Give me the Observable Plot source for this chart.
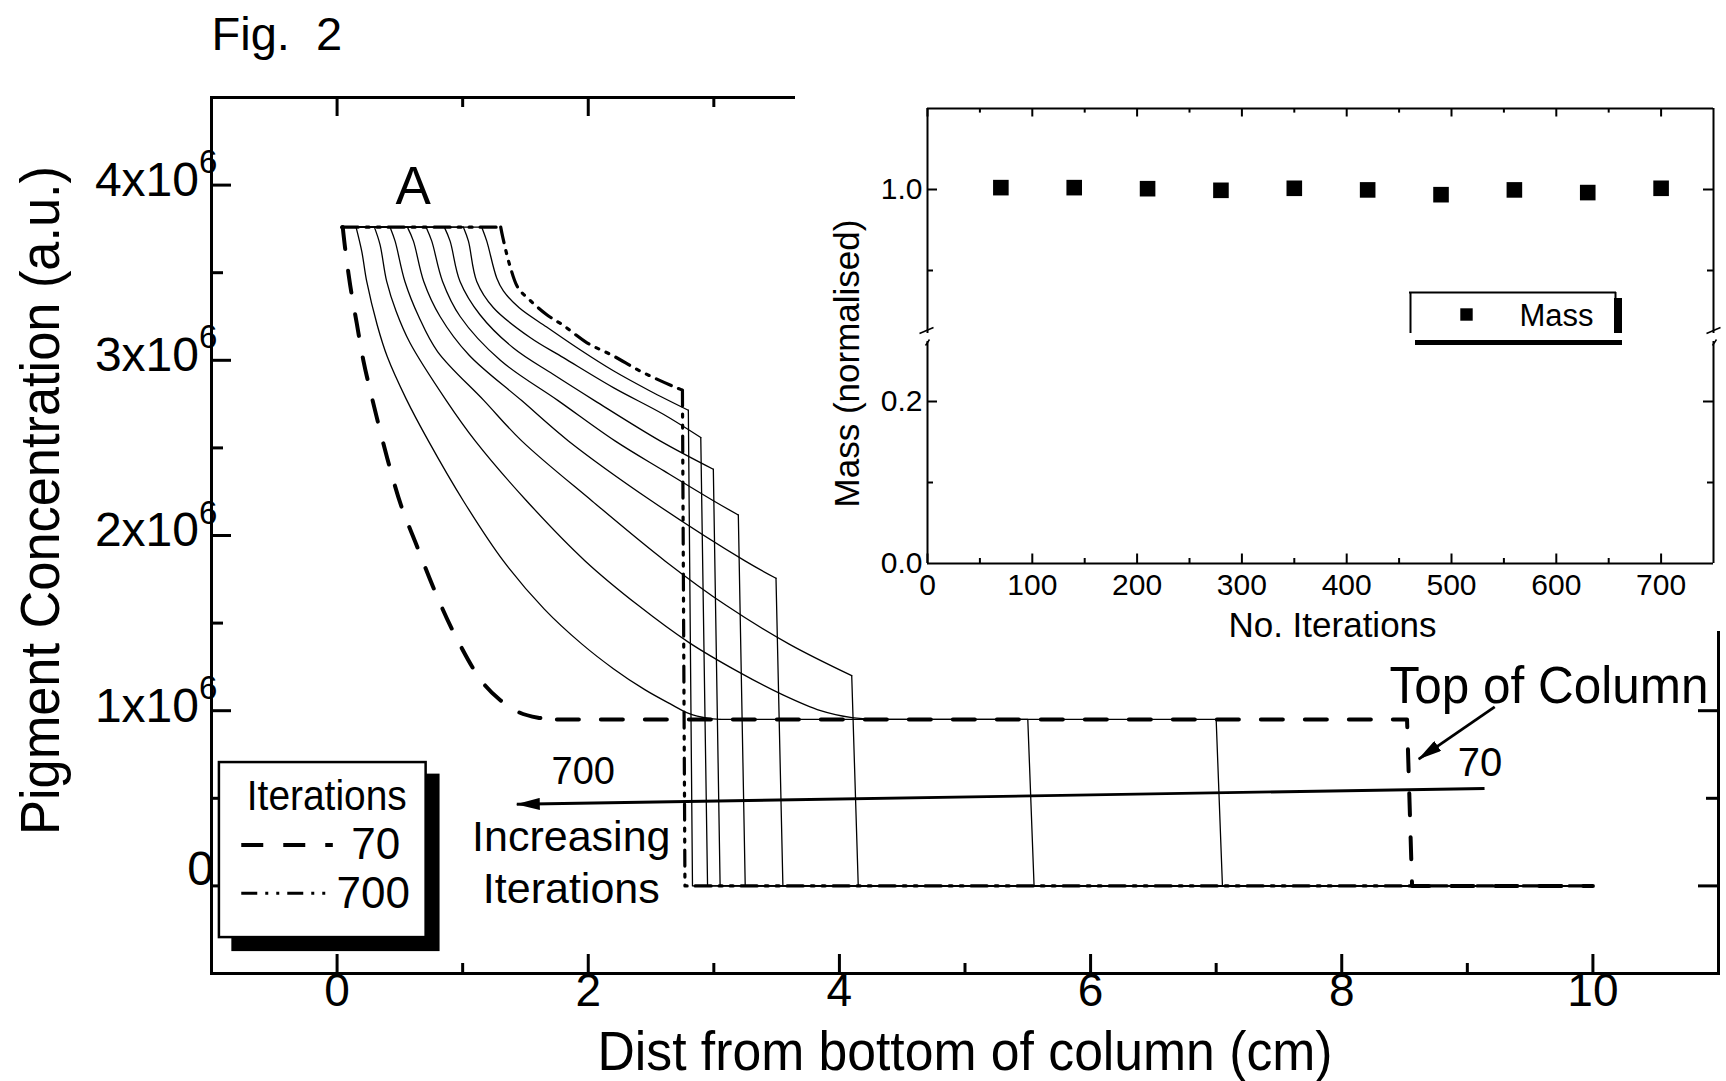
<!DOCTYPE html>
<html><head><meta charset="utf-8">
<script src="https://cdn.jsdelivr.net/npm/d3@7"></script>
<script src="https://cdn.jsdelivr.net/npm/@observablehq/plot@0.6"></script>
<style>
html,body{margin:0;padding:0;background:#fff;overflow:hidden;}
#wrap{position:relative;width:1726px;height:1081px;overflow:hidden;}
#wrap svg{position:absolute;}
#cover{position:absolute;left:795px;top:0;width:931px;height:631px;background:#fff;}
</style></head><body><div id="wrap"></div>
<script>
// ================= DATA =================
// Main chart: pigment concentration profiles (units of 10^6 a.u.) vs distance (cm)
const iterations = [70, 140, 210, 280, 350, 420, 490, 560, 630, 700];
const profileStartX = 0.04;
const loadConc = 3.76;       // initial loaded concentration
const columnTopX = 10;
// descending part of each profile, from the end of the loaded plateau to the front
const descent70  = [[0.045,3.76],[0.064,3.64],[0.104,3.43],[0.157,3.21],[0.209,3.00],[0.29,2.75],[0.40,2.44],[0.51,2.17],[0.63,1.95],[0.78,1.68],[0.94,1.43],[1.15,1.17],[1.30,1.06],[1.45,0.99],[1.6,0.96],[1.75,0.95]];
const descent140 = [[0.151,3.76],[0.197,3.62],[0.236,3.45],[0.32,3.2],[0.40,3.02],[0.55,2.78],[0.727,2.54],[1.006,2.197],[1.324,1.855],[1.65,1.58],[1.95,1.38],[2.2,1.24],[2.45,1.12],[2.65,1.04],[2.8,0.985],[2.95,0.957],[3.05,0.95]];
const descent210 = [[0.297,3.76],[0.342,3.66],[0.395,3.45],[0.47,3.28],[0.58,3.10],[0.87,2.77],[1.10,2.54],[1.51,2.197],[1.975,1.855],[2.4,1.6],[2.8,1.39],[3.2,1.22],[3.55,1.09],[3.85,1.00],[4.1,0.96],[4.3,0.95]];
const descent280 = [[0.422,3.76],[0.462,3.68],[0.54,3.45],[0.65,3.25],[0.80,3.05],[1.17,2.77],[1.47,2.54],[2.03,2.197],[2.611,1.855],[3.1,1.60],[3.6,1.38],[4.098,1.20]];
const descent350 = [[0.56,3.76],[0.608,3.68],[0.69,3.45],[0.82,3.25],[1.05,3.03],[1.47,2.77],[1.842,2.54],[2.505,2.197],[3.248,1.855],[3.495,1.756]];
const descent420 = [[0.709,3.76],[0.754,3.68],[0.84,3.45],[0.98,3.25],[1.3,3.0],[1.76,2.77],[2.213,2.54],[2.6,2.37],[3.0,2.197],[3.195,2.117]];
const descent490 = [[0.854,3.76],[0.90,3.68],[0.979,3.45],[1.138,3.26],[1.404,3.07],[1.72,2.92],[2.05,2.77],[2.572,2.54],[2.996,2.378]];
const descent560 = [[1.006,3.76],[1.046,3.68],[1.112,3.45],[1.245,3.30],[1.537,3.13],[1.802,3.015],[2.2,2.844],[2.598,2.692],[2.896,2.559]];
const descent630 = [[1.152,3.76],[1.192,3.68],[1.271,3.47],[1.324,3.396],[1.45,3.30],[1.669,3.19],[1.935,3.06],[2.2,2.94],[2.492,2.825],[2.797,2.715]];
const descent700 = [[1.303,3.76],[1.32,3.70],[1.38,3.53],[1.44,3.415],[1.54,3.34],[1.67,3.26],[1.80,3.20],[1.99,3.10],[2.20,3.025],[2.41,2.94],[2.68,2.85],[2.75,2.83]];
const dropTopX    = [8.52, 7.0, 5.5, 4.098, 3.495, 3.195, 2.996, 2.896, 2.797, 2.75];
const dropBottomX = [8.56, 7.05, 5.55, 4.15, 3.55, 3.25, 3.05, 2.95, 2.83, 2.77];

const xTicksMajor = [0, 2, 4, 6, 8, 10];
const xTicksMinor = [1, 3, 5, 7, 9];
const yTicksMajor = [0, 1, 2, 3, 4];
const yTicksMinor = [0.5, 1.5, 2.5, 3.5];
const yPowLabels = ["1x10", "2x10", "3x10", "4x10"];
const yPowValues = [1, 2, 3, 4];
const yExponent = "6";

// Inset: normalised mass vs iterations
const massIterations = [70, 140, 210, 280, 350, 420, 490, 560, 630, 700];
const massValues = [1.0023, 1.0023, 1.001, 0.999, 1.0015, 0.9995, 0.9936, 0.9995, 0.9962, 1.0015];
const insetXTicks = [0, 100, 200, 300, 400, 500, 600, 700];
const insetXMinor = [50, 150, 250, 350, 450, 550, 650];
const insetUpperMajor = [1.0], insetUpperMinor = [0.9];
const insetLowerMajor = [0.2], insetLowerMinor = [0.1];
const insetUpperLabels = ["1.0"], insetLowerLabelVals = [0.2, 0.0], insetLowerLabels = ["0.2", "0.0"];

// ================= BUILD =================
const FONT = "'Liberation Sans', Arial, Helvetica, sans-serif";
const descents = [descent70, descent140, descent210, descent280, descent350, descent420, descent490, descent560, descent630, descent700];
const rows = [];
iterations.forEach((it, i) => {
  const d = descents[i];
  const last = d[d.length - 1];
  const segs = {
    flat: [[profileStartX, loadConc], d[0]],
    fall: d,
    tail: [last, [dropTopX[i], last[1]], [dropBottomX[i], 0], [columnTopX, 0]]
  };
  for (const [seg, pts] of Object.entries(segs))
    for (const [x, y] of pts) rows.push({it, seg, key: it + seg, x, y});
});
const pick = (f) => rows.filter(f);
const thin = r => r.it !== 70 && r.it !== 700;

const W = 1726, H = 1081, ML = 211, MR = 8, MT = 97, MB = 108;
const PW = W - ML - MR, PH = H - MT - MB;
const LW = 3;
const dashDot = "16,8,3,8,3,8";

const main = Plot.plot({
  width: W, height: H,
  marginLeft: ML, marginRight: MR, marginTop: MT, marginBottom: MB,
  x: {domain: [-1, 11], axis: null},
  y: {domain: [-0.5, 4.5], axis: null},
  style: {fontFamily: FONT, background: "white", color: "black", overflow: "visible"},
  marks: [
    Plot.line(pick(r => thin(r) && r.seg === "fall"), {x: "x", y: "y", z: "key", curve: "catmull-rom", stroke: "black", strokeWidth: 1.3}),
    Plot.line(pick(r => thin(r) && r.seg !== "fall"), {x: "x", y: "y", z: "key", stroke: "black", strokeWidth: 1.3}),
    Plot.line(pick(r => r.it === 70 && r.seg === "fall"), {x: "x", y: "y", z: "key", curve: "catmull-rom", stroke: "black", strokeWidth: 4, strokeDasharray: "22,22"}),
    Plot.line(pick(r => r.it === 70 && r.seg !== "fall"), {x: "x", y: "y", z: "key", stroke: "black", strokeWidth: 4, strokeDasharray: "22,22"}),
    Plot.line(pick(r => r.it === 700 && r.seg === "fall"), {x: "x", y: "y", z: "key", curve: "catmull-rom", stroke: "black", strokeWidth: 3.2, strokeDasharray: dashDot}),
    Plot.line(pick(r => r.it === 700 && r.seg !== "fall"), {x: "x", y: "y", z: "key", stroke: "black", strokeWidth: 3.2, strokeDasharray: dashDot}),
    // ticks (inward)
    Plot.tickY(yTicksMajor, {stroke: "black", strokeWidth: LW, insetRight: PW - 20}),
    Plot.tickY(yTicksMinor, {stroke: "black", strokeWidth: LW, insetRight: PW - 12}),
    Plot.tickY(yTicksMajor, {stroke: "black", strokeWidth: LW, insetLeft: PW - 20}),
    Plot.tickY(yTicksMinor, {stroke: "black", strokeWidth: LW, insetLeft: PW - 12}),
    Plot.tickX(xTicksMajor, {stroke: "black", strokeWidth: LW, insetTop: PH - 19}),
    Plot.tickX(xTicksMinor, {stroke: "black", strokeWidth: LW, insetTop: PH - 10}),
    Plot.tickX(xTicksMajor, {stroke: "black", strokeWidth: LW, insetBottom: PH - 19}),
    Plot.tickX(xTicksMinor, {stroke: "black", strokeWidth: LW, insetBottom: PH - 10}),
    Plot.frame({stroke: "black", strokeWidth: LW}),
    // tick labels
    Plot.text(xTicksMajor, {x: d => d, y: -0.5, text: d => String(d), lineAnchor: "top", fontSize: 46}),
    Plot.text(yPowValues, {x: -1, y: d => d, text: (d, i) => yPowLabels[i], textAnchor: "end", lineAnchor: "bottom", dx: -12.5, dy: 10.8, fontSize: 48}),
    Plot.text(yPowValues, {x: -1, y: d => d, text: () => yExponent, textAnchor: "start", lineAnchor: "bottom", dx: -12.5, dy: -12, fontSize: 33}),
    Plot.text([0], {x: -1, y: 0, text: () => "0", textAnchor: "end", lineAnchor: "bottom", dx: 2.5, dy: -1, fontSize: 48}),
    // axis titles
    Plot.text(["Dist from bottom of column (cm)"], {x: 5, y: -0.5, dy: 96.4, lineAnchor: "bottom", fontSize: 56}),
    Plot.text(["Pigment Concentration (a.u.)"], {x: -1, y: 2.2, dx: -153, rotate: -90, lineAnchor: "bottom", fontSize: 56}),
    Plot.text(["Fig.\u00a0\u00a02"], {x: -1, y: 4.5, dy: -47.5, textAnchor: "start", lineAnchor: "bottom", fontSize: 47}),
    // annotations
    Plot.text(["A"], {x: 0.605, y: 3.893, lineAnchor: "bottom", fontSize: 53}),
    Plot.text(["700"], {x: 1.96, y: 0.582, lineAnchor: "bottom", fontSize: 38}),
    Plot.text(["Increasing\nIterations"], {x: 1.865, y: -0.097, lineAnchor: "bottom", lineHeight: 1.2, fontSize: 43}),
    Plot.text(["Top of Column"], {x: 9.65, y: 1.045, lineAnchor: "bottom", fontSize: 52}),
    Plot.text(["70"], {x: 9.10, y: 0.628, lineAnchor: "bottom", fontSize: 40}),
    Plot.link([{x1: 9.218, y1: 1.022, x2: 8.613, y2: 0.724}, {x1: 9.137, y1: 0.556, x2: 1.431, y2: 0.466}], {x1: "x1", y1: "y1", x2: "x2", y2: "y2", stroke: "black", strokeWidth: 2.8}),
    // legend
    Plot.rect([{x1: -0.838, x2: 0.82, y1: -0.375, y2: 0.638}], {x1: "x1", x2: "x2", y1: "y1", y2: "y2", fill: "black"}),
    Plot.rect([{x1: -0.937, x2: 0.709, y1: -0.295, y2: 0.704}], {x1: "x1", x2: "x2", y1: "y1", y2: "y2", fill: "white", stroke: "black", strokeWidth: 2.5}),
    Plot.text(["Iterations"], {x: -0.082, y: 0.434, lineAnchor: "bottom", fontSize: 42}),
    Plot.ruleY([0.234], {x1: -0.759, x2: -0.03, stroke: "black", strokeWidth: 4, strokeDasharray: "22,20"}),
    Plot.ruleY([-0.042], {x1: -0.759, x2: -0.06, stroke: "black", strokeWidth: 3.2, strokeDasharray: dashDot}),
    Plot.text(["70"], {x: 0.502, y: 0.154, textAnchor: "end", lineAnchor: "bottom", fontSize: 44}),
    Plot.text(["700"], {x: 0.58, y: -0.124, textAnchor: "end", lineAnchor: "bottom", fontSize: 44})
  ]
});

function fitText(svg, str, len) {
  d3.select(svg).selectAll("text").filter(function () { return this.textContent === str; })
    .attr("textLength", len).attr("lengthAdjust", "spacingAndGlyphs");
}
fitText(main, "Dist from bottom of column (cm)", 735);
fitText(main, "Pigment Concentration (a.u.)", 669);
fitText(main, "Top of Column", 319);
fitText(main, "Iterations", 160);

// filled arrowheads on the two annotation arrows
const SVGNS = "http://www.w3.org/2000/svg";
const defs = document.createElementNS(SVGNS, "defs");
const marker = document.createElementNS(SVGNS, "marker");
marker.setAttribute("id", "ahead");
marker.setAttribute("viewBox", "0 0 24 12");
marker.setAttribute("refX", "23");
marker.setAttribute("refY", "6");
marker.setAttribute("markerWidth", "24");
marker.setAttribute("markerHeight", "12");
marker.setAttribute("markerUnits", "userSpaceOnUse");
marker.setAttribute("orient", "auto");
const mpath = document.createElementNS(SVGNS, "path");
mpath.setAttribute("d", "M0,0L24,6L0,12Z");
mpath.setAttribute("fill", "black");
marker.appendChild(mpath); defs.appendChild(marker); main.insertBefore(defs, main.firstChild);
d3.select(main).selectAll('g[aria-label="link"] path, g[aria-label="link"] line').attr("marker-end", "url(#ahead)");

// ================= INSET =================
const IX0 = 927, IX1 = 1713, ISW = 926, ILEFT = 800;
const xu = px => (px - IX0) / ((IX1 - IX0) / 750);
const upC = py => 1.1 - (py - 108) / 810;
const loC = py => (563 - py) / 810;
const IPW = IX1 - IX0;
const upperH = 340, upperTop = 108, upperBottom = 333;
const UPH = upperBottom - upperTop;
const upper = Plot.plot({
  width: ISW, height: upperH,
  marginLeft: IX0 - ILEFT, marginRight: ILEFT + ISW - IX1, marginTop: upperTop, marginBottom: upperH - upperBottom,
  x: {domain: [0, 750], axis: null},
  y: {domain: [upC(upperBottom), 1.1], axis: null},
  style: {fontFamily: FONT, background: "transparent", color: "black", overflow: "visible"},
  marks: [
    Plot.ruleX([0, 750], {stroke: "black", strokeWidth: 2}),
    Plot.ruleY([1.1], {stroke: "black", strokeWidth: 2}),
    Plot.tickX(insetXTicks, {stroke: "black", strokeWidth: 2, insetBottom: UPH - 8.5}),
    Plot.tickX(insetXMinor, {stroke: "black", strokeWidth: 2, insetBottom: UPH - 4.6}),
    Plot.tickY(insetUpperMajor, {stroke: "black", strokeWidth: 2, insetRight: IPW - 10}),
    Plot.tickY(insetUpperMinor, {stroke: "black", strokeWidth: 2, insetRight: IPW - 6}),
    Plot.tickY(insetUpperMajor, {stroke: "black", strokeWidth: 2, insetLeft: IPW - 10}),
    Plot.tickY(insetUpperMinor, {stroke: "black", strokeWidth: 2, insetLeft: IPW - 6}),
    Plot.text(insetUpperMajor, {x: 0, y: d => d, text: (d, i) => insetUpperLabels[i], textAnchor: "end", lineAnchor: "middle", dx: -5, fontSize: 30}),
    Plot.dot(massIterations.map((x, i) => ({x, y: massValues[i]})), {x: "x", y: "y", symbol: "square", r: 8.8, fill: "black"}),
    // legend box
    Plot.rect([{x1: xu(1410), x2: xu(1615), y1: upC(333), y2: upC(292)}], {x1: "x1", x2: "x2", y1: "y1", y2: "y2", fill: "white"}),
    Plot.ruleY([upC(292)], {x1: xu(1409), x2: xu(1616), stroke: "black", strokeWidth: 2}),
    Plot.ruleX([xu(1410)], {y1: upC(333), y2: upC(292), stroke: "black", strokeWidth: 2}),
    Plot.rect([{x1: xu(1614), x2: xu(1622), y1: upC(333), y2: upC(298)}], {x1: "x1", x2: "x2", y1: "y1", y2: "y2", fill: "black"}),
    Plot.ruleX([xu(1615)], {y1: upC(333), y2: upC(292), stroke: "black", strokeWidth: 2}),
    Plot.dot([{x: xu(1466), y: upC(314)}], {x: "x", y: "y", symbol: "square", r: 7, fill: "black"}),
    Plot.text(["Mass"], {x: xu(1519), y: upC(325), textAnchor: "start", lineAnchor: "bottom", fontSize: 31}),
    // break marks
    Plot.link([{a: 919, b: 333, c: 933, d: 327}, {a: 1706, b: 333, c: 1720, d: 327}], {x1: d => xu(d.a), y1: d => upC(d.b), x2: d => xu(d.c), y2: d => upC(d.d), stroke: "black", strokeWidth: 1.5})
  ]
});

const lowerTopPx = 300, lowerH = 345, lowerTop = 341, lowerBottom = 563;
const LPH = lowerBottom - lowerTop;
const lower = Plot.plot({
  width: ISW, height: lowerH,
  marginLeft: IX0 - ILEFT, marginRight: ILEFT + ISW - IX1, marginTop: lowerTop - lowerTopPx, marginBottom: lowerTopPx + lowerH - lowerBottom,
  x: {domain: [0, 750], axis: null},
  y: {domain: [0, loC(lowerTop)], axis: null},
  style: {fontFamily: FONT, background: "transparent", color: "black", overflow: "visible"},
  marks: [
    Plot.ruleX([0, 750], {stroke: "black", strokeWidth: 2}),
    Plot.ruleY([0], {stroke: "black", strokeWidth: 2}),
    Plot.tickX(insetXTicks, {stroke: "black", strokeWidth: 2, insetTop: LPH - 9.5}),
    Plot.tickX(insetXMinor, {stroke: "black", strokeWidth: 2, insetTop: LPH - 5}),
    Plot.tickY(insetLowerMajor, {stroke: "black", strokeWidth: 2, insetRight: IPW - 10}),
    Plot.tickY(insetLowerMinor, {stroke: "black", strokeWidth: 2, insetRight: IPW - 6}),
    Plot.tickY(insetLowerMajor, {stroke: "black", strokeWidth: 2, insetLeft: IPW - 10}),
    Plot.tickY(insetLowerMinor, {stroke: "black", strokeWidth: 2, insetLeft: IPW - 6}),
    Plot.text(insetXTicks, {x: d => d, y: 0, text: d => String(d), lineAnchor: "top", dy: 10.5, fontSize: 30}),
    Plot.text(insetLowerLabelVals, {x: 0, y: d => d, text: (d, i) => insetLowerLabels[i], textAnchor: "end", lineAnchor: "middle", dx: -5, fontSize: 30}),
    Plot.text(["No. Iterations"], {x: xu(1332), y: 0, dy: 636 - 563, lineAnchor: "bottom", fontSize: 35}),
    Plot.text(["Mass (normalised)"], {x: 0, y: loC(363), dx: 858 - IX0, rotate: -90, lineAnchor: "bottom", fontSize: 35}),
    Plot.rect([{x1: xu(1415), x2: xu(1622), y1: loC(345), y2: loC(340)}], {x1: "x1", x2: "x2", y1: "y1", y2: "y2", fill: "black"}),
    Plot.link([{a: 925, b: 345, c: 929, d: 339}, {a: 1712, b: 345, c: 1716, d: 339}], {x1: d => xu(d.a), y1: d => loC(d.b), x2: d => xu(d.c), y2: d => loC(d.d), stroke: "black", strokeWidth: 1.5})
  ]
});

const wrap = document.getElementById("wrap");
main.style.left = "0px"; main.style.top = "0px";
wrap.appendChild(main);
const cover = document.createElement("div"); cover.id = "cover"; wrap.appendChild(cover);
upper.style.left = ILEFT + "px"; upper.style.top = "0px";
lower.style.left = ILEFT + "px"; lower.style.top = lowerTopPx + "px";
wrap.appendChild(upper);
wrap.appendChild(lower);
</script></body></html>
